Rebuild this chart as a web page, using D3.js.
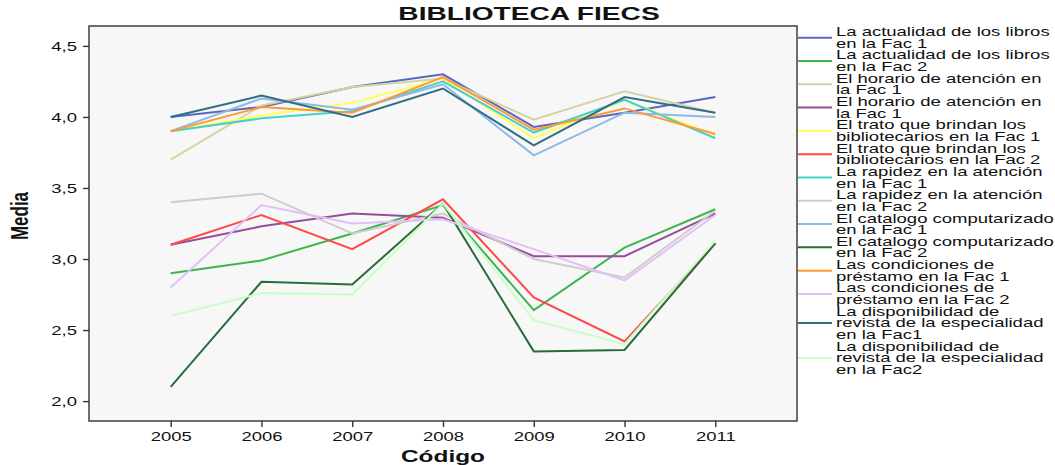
<!DOCTYPE html>
<html>
<head>
<meta charset="utf-8">
<script src="https://cdn.jsdelivr.net/npm/d3@7"></script>
<style>
  body { margin: 0; background: #fff; }
  svg { display: block; }
  text { font-family: "Liberation Sans", Arial, sans-serif; fill: #111; }
</style>
</head>
<body>
<svg id="chart" width="1055" height="465"></svg>
<script>
// Years surveyed (x categories) and the mean score per item and year
const years = ["2005", "2006", "2007", "2008", "2009", "2010", "2011"];
const yTicks = [2.0, 2.5, 3.0, 3.5, 4.0, 4.5];

const actualidadFac1    = [4.00, 4.07, 4.21, 4.30, 3.93, 4.03, 4.14];
const actualidadFac2    = [2.90, 2.99, 3.18, 3.38, 2.64, 3.08, 3.35];
const horarioFac1       = [3.70, 4.08, 4.21, 4.27, 3.98, 4.18, 4.03];
const horarioFac1b      = [3.10, 3.23, 3.32, 3.29, 3.02, 3.02, 3.32];
const tratoFac1         = [3.90, 4.01, 4.10, 4.27, 3.85, 4.12, 3.87];
const tratoFac2         = [3.10, 3.31, 3.07, 3.42, 2.73, 2.42, 3.11];
const rapidezFac1       = [3.90, 3.99, 4.04, 4.25, 3.89, 4.12, 3.85];
const rapidezFac2       = [3.40, 3.46, 3.18, 3.32, 3.00, 2.87, 3.34];
const catalogoFac1      = [3.90, 4.13, 4.05, 4.23, 3.73, 4.03, 4.00];
const catalogoFac2      = [2.10, 2.84, 2.82, 3.39, 2.35, 2.36, 3.11];
const condicionesFac1   = [3.90, 4.07, 4.03, 4.28, 3.91, 4.06, 3.88];
const condicionesFac2   = [2.80, 3.38, 3.25, 3.28, 3.07, 2.85, 3.31];
const disponibilidadFac1 = [4.00, 4.15, 4.00, 4.20, 3.80, 4.14, 4.03];
const disponibilidadFac2 = [2.60, 2.76, 2.75, 3.39, 2.57, 2.40, 3.13];

const seriesValues = [
  actualidadFac1, actualidadFac2, horarioFac1, horarioFac1b,
  tratoFac1, tratoFac2, rapidezFac1, rapidezFac2,
  catalogoFac1, catalogoFac2, condicionesFac1, condicionesFac2,
  disponibilidadFac1, disponibilidadFac2
];

// Legend labels, one entry per wrapped line
const seriesLabels = [
  ["La actualidad de los libros", "en la Fac 1"],
  ["La actualidad de los libros", "en la Fac 2"],
  ["El horario de atención en", "la Fac 1"],
  ["El horario de atención en", "la Fac 1"],
  ["El trato que brindan los", "bibliotecarios en la Fac 1"],
  ["El trato que brindan los", "bibliotecarios en la Fac 2"],
  ["La rapidez en la atención", "en la Fac 1"],
  ["La rapidez en la atención", "en la Fac 2"],
  ["El catalogo computarizado", "en la Fac 1"],
  ["El catalogo computarizado", "en la Fac 2"],
  ["Las condiciones de", "préstamo en la Fac 1"],
  ["Las condiciones de", "préstamo en la Fac 2"],
  ["La disponibilidad de", "revista de la especialidad", "en la Fac1"],
  ["La disponibilidad de", "revista de la especialidad", "en la Fac2"]
];

const seriesColors = [
  "#5868c2", "#3fb54f", "#d6d3a3", "#994c9a",
  "#ffff5a", "#ff4848", "#48cfcb", "#cdcdcd",
  "#8db9e8", "#2a6b3c", "#ff9a33", "#e3bef7",
  "#2e6e86", "#c8ffc8"
];

const svg = d3.select("#chart");
const plot = { left: 89, top: 26, right: 797, bottom: 421 };
const SX = 1.48; // wide text rendering

const x = d3.scalePoint().domain(years).range([plot.left, plot.right]).padding(0.9);
const y = d3.scaleLinear().domain([1.86, 4.64]).range([plot.bottom, plot.top]);

// wide text helper
function wideText(parent, tx, ty, str, opts = {}) {
  const g = parent.append("g").attr("transform", `translate(${tx},${ty}) scale(${opts.sx ?? SX},1)`);
  return g.append("text")
    .attr("text-anchor", opts.anchor || "start")
    .style("font-size", (opts.size || 12.5) + "px")
    .style("font-weight", opts.weight || "normal")
    .text(str);
}

// plot background
svg.append("rect")
  .attr("x", plot.left).attr("y", plot.top)
  .attr("width", plot.right - plot.left).attr("height", plot.bottom - plot.top)
  .attr("fill", "#f7f7f7");

// series lines
const line = d3.line()
  .x((d, i) => x(years[i]))
  .y(d => y(d));

svg.append("g")
  .selectAll("path")
  .data(seriesValues)
  .join("path")
  .attr("d", d => line(d))
  .attr("fill", "none")
  .attr("stroke", (d, i) => seriesColors[i])
  .attr("stroke-width", 2)
  .attr("stroke-linejoin", "miter");

// frame
svg.append("rect")
  .attr("x", plot.left).attr("y", plot.top)
  .attr("width", plot.right - plot.left).attr("height", plot.bottom - plot.top)
  .attr("fill", "none")
  .attr("stroke", "#4a4a4a")
  .attr("stroke-width", 1.6);

// y axis
const yAxis = svg.append("g")
  .attr("transform", `translate(${plot.left},0)`)
  .call(d3.axisLeft(y).tickValues(yTicks).tickSize(6).tickPadding(0)
    .tickFormat(d => d3.format(".1f")(d).replace(".", ",")));
yAxis.select(".domain").remove();
yAxis.selectAll(".tick line").attr("stroke", "#333").attr("stroke-width", 1.4);
yAxis.selectAll(".tick text").remove();
yAxis.selectAll(".tick").each(function (d) {
  wideText(d3.select(this), -12, 4.5, d3.format(".1f")(d).replace(".", ","), { anchor: "end" });
});

// x axis
const xAxis = svg.append("g")
  .attr("transform", `translate(0,${plot.bottom})`)
  .call(d3.axisBottom(x).tickSize(6));
xAxis.select(".domain").remove();
xAxis.selectAll(".tick line").attr("stroke", "#333").attr("stroke-width", 1.4);
xAxis.selectAll(".tick text").remove();
xAxis.selectAll(".tick").each(function (d) {
  wideText(d3.select(this), 0, 20, d, { anchor: "middle" });
});

// titles
wideText(svg, 529, 20, "BIBLIOTECA FIECS", { anchor: "middle", size: 19, weight: "bold" });
wideText(svg, 443, 462, "Código", { anchor: "middle", size: 16.5, weight: "bold" });
svg.append("text")
  .attr("transform", "translate(28,216) scale(1.4,1) rotate(-90)")
  .attr("text-anchor", "middle")
  .style("font-size", "17px")
  .style("font-weight", "bold")
  .text("Media");

// legend
const lineH = 11.65;
const legend = svg.append("g");
let legendY = 26;
seriesLabels.forEach((lines, i) => {
  const cy = legendY + lines.length * lineH / 2;
  legend.append("line")
    .attr("x1", 798).attr("x2", 832)
    .attr("y1", cy).attr("y2", cy)
    .attr("stroke", seriesColors[i])
    .attr("stroke-width", 2);
  lines.forEach((t, k) => {
    wideText(legend, 836, legendY + (k + 0.5) * lineH + 4.3, t);
  });
  legendY += lines.length * lineH;
});
</script>
</body>
</html>
